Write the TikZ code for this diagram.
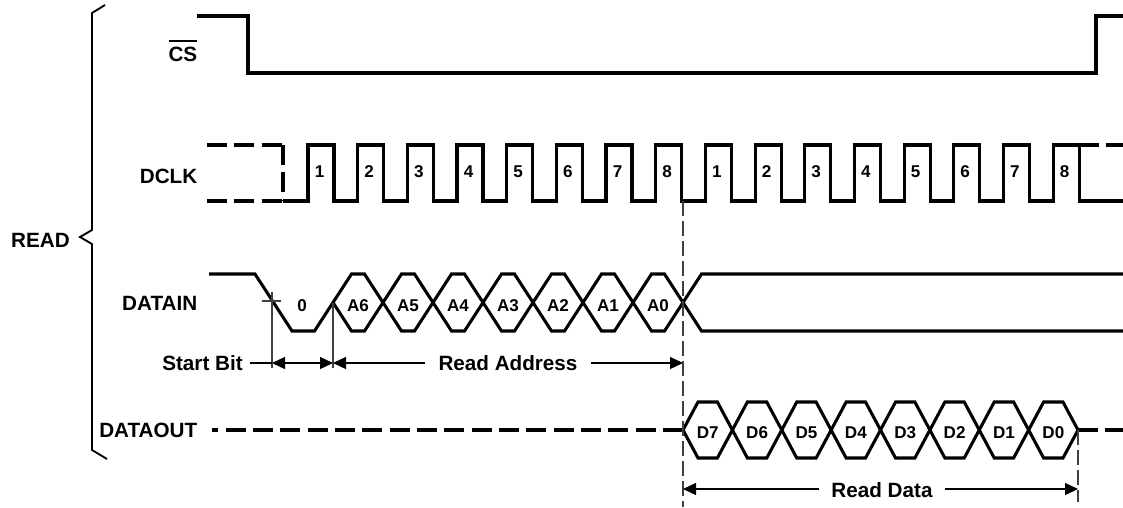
\documentclass[tikz,border=0pt]{standalone}
\usepackage{fontspec}
\setmainfont{Liberation Sans}
\usetikzlibrary{arrows.meta}
\begin{document}
\begin{tikzpicture}[x=0.75pt,y=-0.75pt]
\tikzset{
  sig/.style={line width=2.3pt, line join=miter, line cap=butt},
  sigdash/.style={sig, dash pattern=on 15pt off 5.5pt},
  lbl/.style={font=\fontsize{15.5}{18}\selectfont\bfseries, inner sep=0pt, anchor=base east},
  num/.style={font=\fontsize{12.8}{14}\selectfont\bfseries, inner sep=0pt, anchor=base},
  dim/.style={line width=1pt, {Triangle[length=9.75pt,width=9pt]}-{Triangle[length=9.75pt,width=9pt]}},
  lead/.style={line width=1pt},
  guide/.style={line width=0.8pt, black!75},
  guidedash/.style={guide, dash pattern=on 11pt off 4pt},
  brace/.style={line width=1.4pt, line join=miter}
}
\useasboundingbox (0,0) rectangle (1123,507);

% ---- brace and READ label
\draw[brace] (105,5) -- (92,13) -- (92,230) -- (80,237) -- (92,244) -- (92,450) -- (107,459);
\node[lbl] (read) at (70,247.5) {READ};

% ---- signal labels
\node[lbl] (cs) at (197.5,61) {\vbox{\hrule height 1.7pt\kern 3.6pt\hbox{CS}}};
\node[lbl] (dclk) at (197.5,183.5) {DCLK};
\node[lbl] (din) at (197.5,310) {DATAIN};
\node[lbl] (dout) at (197.5,437) {DATAOUT};

% ---- CS
\draw[sig] (197,16) -- (248,16) -- (248,73) -- (1096,73) -- (1096,16) -- (1123,16);

% ---- DCLK
\draw[sigdash] (207,145) -- (283,145);
\draw[sigdash] (207,201) -- (283,201);
\draw[sigdash] (283,145) -- (283,201);
\draw[sig] (283,201) \foreach \k in {0,...,15}{
   -- ({308+\k*49.67},201) -- ({308+\k*49.67},145)
   -- ({334+\k*49.67},145) -- ({334+\k*49.67},201) } -- (1123,201);
\draw[sigdash] ({334+15*49.67},145) -- (1123,145);
\foreach \k/\t in {0/1,1/2,2/3,3/4,4/5,5/6,6/7,7/8,8/1,9/2,10/3,11/4,12/5,13/6,14/7,15/8}
  \node[num] (c\k) at ({319.5+\k*49.67},177) {\t};

% ---- DATAIN
\draw[sig] (209,274) -- (255,274) -- (292,331) -- (314.5,331) -- (351.5,274)
  \foreach \i in {1,...,7}{ -- ({333+\i*50-18.5},274) -- ({333+\i*50},302.5) -- ({333+\i*50+18.5},274) }
  -- (1123,274);
\draw[sig] (333,302.5)
  \foreach \i in {0,...,6}{ -- ({333+\i*50+18.5},331) -- ({333+(\i+1)*50-18.5},331) -- ({333+(\i+1)*50},302.5) }
  -- ({333+7*50+18.5},331) -- (1123,331);
\node[num] (b0) at (302,311.5) {0};
\foreach \i/\t in {0/A6,1/A5,2/A4,3/A3,4/A2,5/A1,6/A0}
  \node[num] (a\i) at ({358+\i*50},311.5) {\t};

% ---- DATAOUT
\draw[sigdash] (683,430) -- (212,430);
\draw[sigdash] (1078,430) -- (1123,430);
\draw[sig] (683,430)
  \foreach \i in {0,...,7}{ -- ({683+\i*49.375+15},402) -- ({683+(\i+1)*49.375-15},402) -- ({683+(\i+1)*49.375},430) };
\draw[sig] (683,430)
  \foreach \i in {0,...,7}{ -- ({683+\i*49.375+15},458) -- ({683+(\i+1)*49.375-15},458) -- ({683+(\i+1)*49.375},430) };
\foreach \i/\t in {0/D7,1/D6,2/D5,3/D4,4/D3,5/D2,6/D1,7/D0}
  \node[num] (d\i) at ({707.7+\i*49.375},438) {\t};

% ---- guide lines
\draw[guide] (272,292) -- (272,368);
\draw[guide] (262,301) -- (281,301);
\draw[guide] (333,302.5) -- (333,368);
\draw[guidedash] (683,201) -- (683,507);
\draw[guidedash] (1078,430) -- (1078,502);

% ---- dimension arrows
\coordinate (sbL) at (272,363);
\coordinate (sbR) at (333,363);
\coordinate (raR) at (683,363);
\coordinate (rdL) at (683,489);
\coordinate (rdR) at (1078,489);
\node[lbl, anchor=base, inner xsep=5pt] (sb) at (202.5,370.7) {Start Bit};
\draw[lead] (sb.east |- sbL) -- (sbL);
\draw[dim] (sbL) -- (sbR);
\draw[dim] (sbR) -- (raR);
\node[lbl, anchor=base, fill=white, inner xsep=10pt] (ra) at (508,370.7) {Read Address};
\draw[dim] (rdL) -- (rdR);
\node[lbl, anchor=base, fill=white, inner xsep=9pt] (rd) at (882,497) {Read Data};
\end{tikzpicture}
\end{document}
